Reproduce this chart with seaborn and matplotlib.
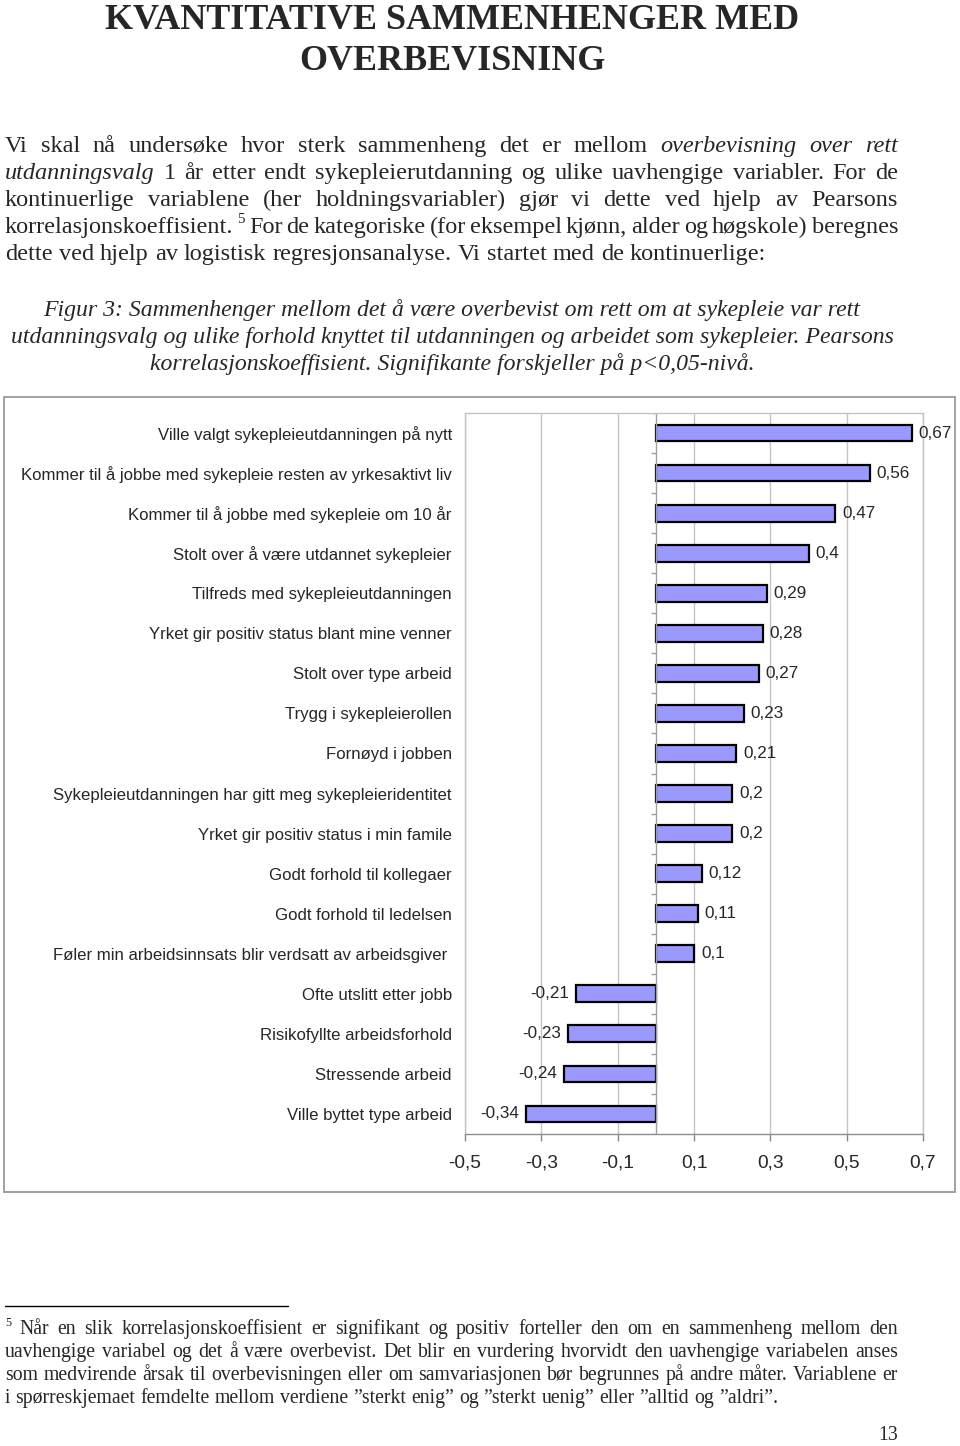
import numpy as np
import pandas as pd
import matplotlib
matplotlib.use("Agg")
import matplotlib.pyplot as plt
import seaborn as sns
from matplotlib.patches import Rectangle
from matplotlib.lines import Line2D

# ---------------- data ----------------
categories = [
    "Ville valgt sykepleieutdanningen på nytt",
    "Kommer til å jobbe med sykepleie resten av yrkesaktivt liv",
    "Kommer til å jobbe med sykepleie om 10 år",
    "Stolt over å være utdannet sykepleier",
    "Tilfreds med sykepleieutdanningen",
    "Yrket gir positiv status blant mine venner",
    "Stolt over type arbeid",
    "Trygg i sykepleierollen",
    "Fornøyd i jobben",
    "Sykepleieutdanningen har gitt meg sykepleieridentitet",
    "Yrket gir positiv status i min famile",
    "Godt forhold til kollegaer",
    "Godt forhold til ledelsen",
    "Føler min arbeidsinnsats blir verdsatt av arbeidsgiver ",
    "Ofte utslitt etter jobb",
    "Risikofyllte arbeidsforhold",
    "Stressende arbeid",
    "Ville byttet type arbeid",
]
values = [0.67, 0.56, 0.47, 0.4, 0.29, 0.28, 0.27, 0.23, 0.21, 0.2, 0.2,
          0.12, 0.11, 0.1, -0.21, -0.23, -0.24, -0.34]
value_labels = [str(v).replace(".", ",") for v in values]
xticks = [-0.5, -0.3, -0.1, 0.1, 0.3, 0.5, 0.7]
xtick_labels = ["-0,5", "-0,3", "-0,1", "0,1", "0,3", "0,5", "0,7"]

title_lines = ["KVANTITATIVE SAMMENHENGER MED", "OVERBEVISNING"]
# tokens: (word, style) style n=normal, i=italic, s=superscript
body_lines = [
    ([(w, "n") for w in "Vi skal nå undersøke hvor sterk sammenheng det er mellom".split()]
     + [(w, "i") for w in "overbevisning over rett".split()], True),
    ([("utdanningsvalg", "i")]
     + [(w, "n") for w in "1 år etter endt sykepleierutdanning og ulike uavhengige variabler. For de".split()], True),
    ([(w, "n") for w in "kontinuerlige variablene (her holdningsvariabler) gjør vi dette ved hjelp av Pearsons".split()], True),
    ([("korrelasjonskoeffisient.", "n"), ("5", "s")]
     + [(w, "n") for w in "For de kategoriske (for eksempel kjønn, alder og høgskole) beregnes".split()], True),
    ([(w, "n") for w in "dette ved hjelp av logistisk regresjonsanalyse. Vi startet med de kontinuerlige:".split()], False),
]
caption_lines = [
    "Figur 3: Sammenhenger mellom det å være overbevist om rett om at sykepleie var rett",
    "utdanningsvalg og ulike forhold knyttet til utdanningen og arbeidet som sykepleier. Pearsons",
    "korrelasjonskoeffisient. Signifikante forskjeller på p<0,05-nivå.",
]
footnote_lines = [
    ([("5", "s")] + [(w, "n") for w in "Når en slik korrelasjonskoeffisient er signifikant og positiv forteller den om en sammenheng mellom den".split()], True),
    ([(w, "n") for w in "uavhengige variabel og det å være overbevist. Det blir en vurdering hvorvidt den uavhengige variabelen anses".split()], True),
    ([(w, "n") for w in "som medvirende årsak til overbevisningen eller om samvariasjonen bør begrunnes på andre måter. Variablene er".split()], True),
    ([(w, "n") for w in "i spørreskjemaet femdelte mellom verdiene ”sterkt enig” og ”sterkt uenig” eller ”alltid og ”aldri”.".split()], False),
]
page_number = "13"

# ---------------- figure ----------------
W, H = 960, 1446
sns.set_style("white")
plt.rcParams["font.family"] = ["Liberation Sans", "DejaVu Sans"]
SERIF = ["Liberation Serif", "DejaVu Serif"]

fig = plt.figure(figsize=(W / 100, H / 100), dpi=100)
fig.patch.set_facecolor("white")


def fx(x):
    return x / W


def fy(y):
    return 1 - y / H


# ---------------- chart ----------------
ax = fig.add_axes([fx(465), fy(1134), 458 / W, 721 / H])
df = pd.DataFrame({"kategori": categories, "verdi": values})
sns.barplot(data=df, x="verdi", y="kategori", orient="h", color="#9999FF",
            saturation=1, edgecolor="black", linewidth=1.6, width=0.42,
            errorbar=None, ax=ax)
ax.set_xlim(-0.5, 0.7)
ax.set_ylim(len(categories) - 0.5, -0.5)
ax.set_xticks(xticks)
ax.set_xticklabels(xtick_labels, fontsize=13.8)
ax.set_xlabel("")
ax.set_ylabel("")
ax.xaxis.grid(True, color="#c4c4c4", lw=1)
ax.yaxis.grid(False)
ax.set_axisbelow(True)
ax.tick_params(axis="x", bottom=True, length=5, width=1, color="#888888",
               pad=10, direction="out")
ax.tick_params(axis="y", left=False, length=0, pad=9.5, labelsize=12.1)
for name, sp in ax.spines.items():
    sp.set_visible(True)
    sp.set_color("#c4c4c4")
    sp.set_linewidth(1)
ax.spines["bottom"].set_color("#8c8c8c")

# zero axis with small category-boundary ticks
ax.axvline(0, color="#a0a0a0", lw=1, zorder=1.5)
ax.hlines(np.arange(len(categories) + 1) - 0.5, -0.013, 0, color="#a0a0a0",
          lw=1, zorder=1.5)

ax.bar_label(ax.containers[0], labels=value_labels, padding=5, fontsize=12.3)

# outer chart frame
fig.add_artist(Rectangle((fx(4), fy(1192)), 951 / W, 795 / H,
                         transform=fig.transFigure, fill=False,
                         edgecolor="#9a9a9a", lw=1.3))

# ---------------- page text ----------------
renderer = fig.canvas.get_renderer()


def text_width(s, size, style="normal"):
    t = fig.text(0, 0, s, fontsize=size, family=SERIF, style=style)
    w = t.get_window_extent(renderer).width
    t.remove()
    return w


def text_line(tokens, x0, x1, y, size, justify=True):
    arts = []
    widths = []
    for w, st in tokens:
        fs = size * 0.62 if st == "s" else size
        t = fig.text(0, 0, w, fontsize=fs, family=SERIF,
                     style="italic" if st == "i" else "normal",
                     va="baseline", ha="left")
        arts.append((t, st))
        widths.append(t.get_window_extent(renderer).width)
    space = text_width("a a", size) - text_width("aa", size)
    if justify and len(tokens) > 1:
        gap = (x1 - x0 - sum(widths)) / (len(tokens) - 1)
    else:
        gap = space
    x = x0
    for (t, st), w in zip(arts, widths):
        yy = y - (size * 100 / 72 * 0.42 if st == "s" else 0)
        t.set_position((fx(x), fy(yy)))
        x += w + gap


# title
for line, yb in zip(title_lines, [29, 70]):
    fig.text(fx(452), fy(yb), line, fontsize=25.9, fontweight="bold",
             family=SERIF, ha="center", va="baseline")

# body
for (tokens, just), yb in zip(body_lines, [152, 179, 206, 233, 260]):
    text_line(tokens, 5, 898, yb, 17.5, just)

# caption
for line, yb in zip(caption_lines, [316, 343, 370]):
    fig.text(fx(452), fy(yb), line, fontsize=17.1, style="italic",
             family=SERIF, ha="center", va="baseline")

# footnote rule and footnote
fig.add_artist(Line2D([fx(5), fx(288)], [fy(1306), fy(1306)],
                      transform=fig.transFigure, color="black", lw=1))
for (tokens, just), yb in zip(footnote_lines, [1334, 1357, 1380, 1403]):
    text_line(tokens, 5, 898, yb, 14.2, just)

fig.text(fx(898), fy(1440), page_number, fontsize=14.2, family=SERIF,
         ha="right", va="baseline")

fig.savefig("out.png", dpi=100, facecolor="white")
